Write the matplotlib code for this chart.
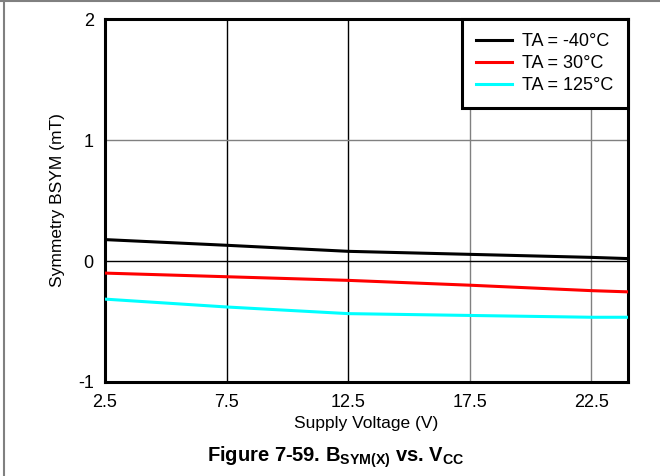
import matplotlib
matplotlib.use('Agg')
import matplotlib.pyplot as plt
from matplotlib.lines import Line2D

plt.rcParams['font.family'] = ['Liberation Sans', 'DejaVu Sans']
plt.rcParams['mathtext.fontset'] = 'custom'
plt.rcParams['mathtext.rm'] = 'Liberation Sans'
plt.rcParams['mathtext.bf'] = 'Liberation Sans:bold'
plt.rcParams['axes.unicode_minus'] = False

# dados
vcc = [2.5, 7.5, 12.5, 17.5, 22.5, 24.0]
bsym_m40 = [0.177, 0.13, 0.08, 0.055, 0.03, 0.02]
bsym_30 = [-0.10, -0.13, -0.16, -0.20, -0.245, -0.255]
bsym_125 = [-0.315, -0.38, -0.435, -0.45, -0.465, -0.465]
labels = ['TA = -40°C', 'TA = 30°C', 'TA = 125°C']
cores = ['black', 'red', 'cyan']
xticks = [2.5, 7.5, 12.5, 17.5, 22.5]
yticks = [-1, 0, 1, 2]

fig = plt.figure(figsize=(6.6, 4.76), dpi=100)
ax = fig.add_axes([0.159, 0.1975, 0.7925, 0.7625])

# grade
for x, c in zip(xticks[1:], ['black', 'black', 'gray', 'gray']):
    ax.axvline(x, color=c, lw=1.0, zorder=1)
for y, c in zip([0, 1], ['black', 'gray']):
    ax.axhline(y, color=c, lw=1.0, zorder=1)

for serie, lab, c in zip([bsym_m40, bsym_30, bsym_125], labels, cores):
    ax.plot(vcc, serie, color=c, lw=2.2, label=lab, zorder=3)

ax.set_xlim(2.5, 24.0)
ax.set_ylim(-1, 2)
ax.set_xticks(xticks)
ax.set_xticklabels([str(x) for x in xticks])
ax.set_yticks(yticks)
ax.tick_params(length=0, labelsize=13)
ax.tick_params(axis='x', pad=9)
ax.tick_params(axis='y', pad=8)
for s in ax.spines.values():
    s.set_linewidth(2.2)

ax.set_xlabel('Supply Voltage (V)', fontsize=12.5, labelpad=3)
ax.set_ylabel('Symmetry BSYM (mT)', fontsize=12.5, labelpad=9)

leg = ax.legend(loc='upper right', fontsize=13, fancybox=False, framealpha=1,
                edgecolor='black', borderaxespad=0, handlelength=2.0,
                labelspacing=0.26, borderpad=0.8, handletextpad=0.55)
leg.get_frame().set_linewidth(2.2)

fig.text(0.509, 0.03, r'Figure 7-59. B$_{\mathbf{SYM(X)}}$ vs. V$_{\mathbf{CC}}$',
         ha='center', va='baseline', fontsize=14.5, fontweight='bold')

# moldura cinza
fig.add_artist(Line2D([0.006, 0.006], [0, 1], color='gray', lw=1.5, transform=fig.transFigure))
fig.add_artist(Line2D([0, 1], [0.998, 0.998], color='gray', lw=1.5, transform=fig.transFigure))

fig.savefig('out.png', dpi=100)
